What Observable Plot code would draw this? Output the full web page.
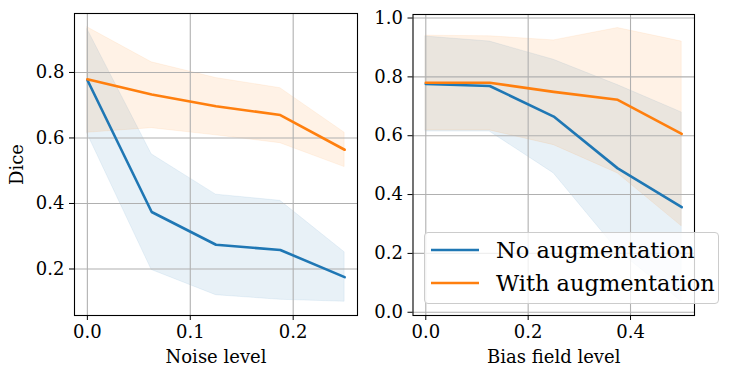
<!DOCTYPE html>
<html>
<head>
<meta charset="utf-8">
<script src="https://cdn.jsdelivr.net/npm/d3@7"></script>
<script src="https://cdn.jsdelivr.net/npm/@observablehq/plot@0.6"></script>
<style>
  body { margin: 0; background: white; }
  #wrap { position: relative; width: 729px; height: 376px; font-family: "DejaVu Serif", serif; }
  #wrap > .p { position: absolute; top: 0; }
  #legend {
    position: absolute; left: 424px; top: 232px; width: 293px; height: 70px;
    background: rgba(255,255,255,0.8); border: 1px solid #cccccc; border-radius: 4px;
    font-size: 22.5px; color: black;
  }
  #legend .row { position: absolute; left: 6px; height: 30px; display: flex; align-items: center; }
  #legend .row span { margin-left: 17px; }
</style>
</head>
<body>
<div id="wrap"></div>
<script>
const seriesNames = ["No augmentation", "With augmentation"];
const colors = ["#1f77b4", "#ff7f0e"];

const noiseLevels = [0, 0.0625, 0.125, 0.1875, 0.25];
const noiseNoAugMean = [0.777, 0.374, 0.274, 0.258, 0.175];
const noiseNoAugLow  = [0.613, 0.197, 0.120, 0.106, 0.100];
const noiseNoAugHigh = [0.932, 0.550, 0.427, 0.408, 0.251];
const noiseAugMean   = [0.779, 0.733, 0.697, 0.670, 0.564];
const noiseAugLow    = [0.616, 0.630, 0.608, 0.584, 0.511];
const noiseAugHigh   = [0.938, 0.831, 0.783, 0.752, 0.616];

const biasLevels = [0, 0.125, 0.25, 0.375, 0.5];
const biasNoAugMean = [0.776, 0.769, 0.665, 0.489, 0.357];
const biasNoAugLow  = [0.614, 0.614, 0.472, 0.210, 0.036];
const biasNoAugHigh = [0.937, 0.920, 0.858, 0.772, 0.679];
const biasAugMean   = [0.780, 0.780, 0.749, 0.722, 0.606];
const biasAugLow    = [0.618, 0.618, 0.568, 0.472, 0.292];
const biasAugHigh   = [0.940, 0.938, 0.924, 0.966, 0.920];

const noiseTicks = [0, 0.1, 0.2];
const biasTicks = [0, 0.2, 0.4];
const noiseYTicks = [0.2, 0.4, 0.6, 0.8];
const biasYTicks = [0, 0.2, 0.4, 0.6, 0.8, 1.0];

function rows(levels, series) {
  const out = [];
  series.forEach((s, si) => {
    levels.forEach((x, i) => out.push({x, series: seriesNames[si], mean: s.mean[i], lo: s.lo[i], hi: s.hi[i]}));
  });
  return out;
}

function panel({data, xTicks, yTicks, xDomain, yDomain, xLabel, yLabel, width, margins}) {
  const fmt = d3.format(".1f");
  const fs = 18;
  return Plot.plot({
    width, height: 376,
    marginLeft: margins[0], marginRight: margins[1], marginTop: margins[2], marginBottom: margins[3],
    style: {fontFamily: "DejaVu Serif", fontSize: "18px", background: "white", color: "black"},
    x: {domain: xDomain},
    y: {domain: yDomain},
    color: {domain: seriesNames, range: colors},
    marks: [
      Plot.areaY(data, {x: "x", y1: "lo", y2: "hi", z: "series", fill: "series", fillOpacity: 0.1, stroke: "series", strokeOpacity: 0.08, strokeWidth: 1}),
      Plot.gridX(xTicks, {stroke: "#b0b0b0", strokeOpacity: 1, strokeWidth: 1.1}),
      Plot.gridY(yTicks, {stroke: "#b0b0b0", strokeOpacity: 1, strokeWidth: 1.1}),
      Plot.lineY(data, {x: "x", y: "mean", z: "series", stroke: "series", strokeWidth: 2.6}),
      Plot.frame({stroke: "black", strokeWidth: 1.1}),
      Plot.axisX(xTicks, {tickFormat: fmt, tickSize: 5, tickPadding: 5, fontSize: fs, label: xLabel, labelAnchor: "center", labelArrow: "none", labelOffset: 47}),
      Plot.axisY(yTicks, {tickFormat: fmt, tickSize: 5, tickPadding: 5, fontSize: fs, label: yLabel, labelAnchor: "center", labelArrow: "none", labelOffset: 64})
    ]
  });
}

const wrap = document.getElementById("wrap");

const left = panel({
  data: rows(noiseLevels, [
    {mean: noiseNoAugMean, lo: noiseNoAugLow, hi: noiseNoAugHigh},
    {mean: noiseAugMean, lo: noiseAugLow, hi: noiseAugHigh}
  ]),
  xTicks: noiseTicks, yTicks: noiseYTicks,
  xDomain: [-0.0125, 0.2625], yDomain: [0.058, 0.98],
  xLabel: "Noise level", yLabel: "Dice",
  width: 360, margins: [74, 3, 13, 61]
});
left.classList.add("p");
left.style.left = "0px";
wrap.appendChild(left);

const right = panel({
  data: rows(biasLevels, [
    {mean: biasNoAugMean, lo: biasNoAugLow, hi: biasNoAugHigh},
    {mean: biasAugMean, lo: biasAugLow, hi: biasAugHigh}
  ]),
  xTicks: biasTicks, yTicks: biasYTicks,
  xDomain: [-0.025, 0.525], yDomain: [-0.011, 1.012],
  xLabel: "Bias field level", yLabel: null,
  width: 369, margins: [52.5, 35, 14, 61]
});
right.classList.add("p");
right.style.left = "360px";
wrap.appendChild(right);

// legend
const legend = document.createElement("div");
legend.id = "legend";
seriesNames.forEach((name, i) => {
  const row = document.createElement("div");
  row.className = "row";
  row.style.top = (i === 0 ? 2 : 35) + "px";
  row.innerHTML = `<svg width="48" height="10"><line x1="0" x2="48" y1="5" y2="5" stroke="${colors[i]}" stroke-width="2.6"/></svg><span>${name}</span>`;
  legend.appendChild(row);
});
wrap.appendChild(legend);
</script>
</body>
</html>
